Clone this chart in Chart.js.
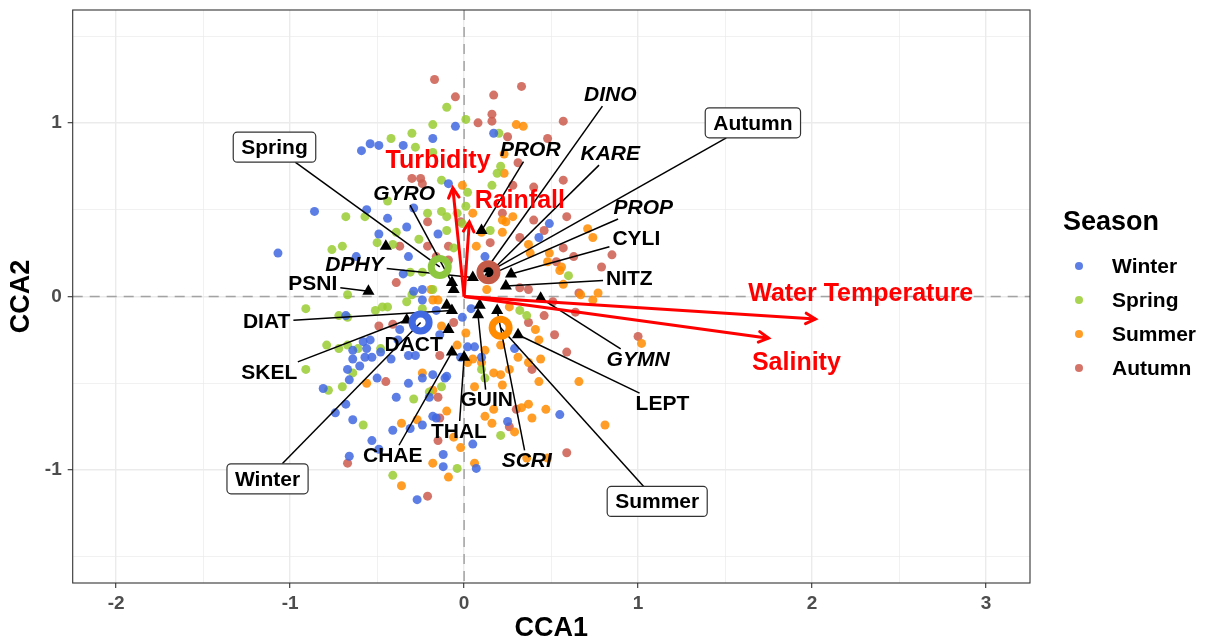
<!DOCTYPE html>
<html>
<head>
<meta charset="utf-8">
<title>CCA biplot</title>
<script src="https://cdn.jsdelivr.net/npm/chart.js@4/dist/chart.umd.min.js"></script>
<style>
  html, body { margin: 0; padding: 0; background: #fff; }
</style>
</head>
<body>
<canvas id="cca" width="1208" height="641"></canvas>
<script>
// Sample scores per season, [CCA1, CCA2]
const winterScores = [
  [-0.05,0.98],[-0.18,0.91],[-0.54,0.88],[-0.49,0.87],[-0.59,0.84],[-0.35,0.87],[-0.09,0.65],[-0.86,0.49],[-0.56,0.50],[-0.44,0.45],
  [-0.29,0.51],[-1.07,0.25],[-0.49,0.36],[-0.33,0.40],[-0.15,0.36],[0.12,0.23],[-0.35,0.13],[-0.62,0.23],[-0.24,0.04],[-0.32,0.23],
  [0.17,0.94],[0.43,0.34],[0.49,0.42],[-0.29,0.03],[-0.24,-0.02],[-0.16,-0.08],[-0.58,-0.26],[-0.54,-0.25],[-0.56,-0.30],[-0.57,-0.35],
  [-0.53,-0.35],[-0.48,-0.32],[-0.64,-0.31],[-0.60,-0.40],[-0.64,-0.36],[-0.42,-0.36],[-0.38,-0.25],[-0.28,-0.34],[-0.32,-0.34],[-0.14,-0.22],
  [-0.02,-0.35],[0.04,-0.07],[-0.01,-0.12],[0.10,-0.35],[0.02,-0.29],[0.06,-0.29],[-0.68,-0.11],[-0.37,-0.19],[-0.67,-0.42],[-0.50,-0.47],
  [-0.81,-0.53],[-0.68,-0.62],[-0.74,-0.67],[-0.64,-0.71],[-0.39,-0.58],[-0.32,-0.50],[-0.24,-0.47],[-0.18,-0.45],[-0.11,-0.47],[-0.18,-0.69],
  [-0.16,-0.70],[-0.24,-0.74],[-0.41,-0.77],[-0.31,-0.76],[-0.53,-0.83],[-0.49,-0.88],[0.05,-0.85],[0.07,-0.99],[-0.12,-0.91],[-0.12,-0.98],
  [-0.66,-0.92],[-0.27,-1.17],[0.25,-0.72],[-0.66,-0.48],[-0.10,-0.46],[-0.20,-0.58],[0.55,-0.68],[0.29,-0.30]
];
const springScores = [
  [-0.10,1.09],[0.01,1.02],[-0.18,0.99],[-0.30,0.94],[-0.42,0.91],[-0.28,0.86],[0.20,0.94],[0.21,0.75],[0.19,0.71],[-0.13,0.67],
  [0.02,0.60],[-0.68,0.46],[-0.57,0.46],[-0.21,0.48],[-0.13,0.49],[-0.04,0.48],[-0.76,0.27],[-0.70,0.29],[-0.39,0.37],[-0.26,0.33],
  [-0.31,0.14],[-0.24,0.14],[-0.67,0.01],[-0.30,0.01],[0.15,0.38],[-0.10,0.38],[-0.06,0.28],[-0.44,0.55],[0.01,0.52],[-0.01,0.42],
  [-0.10,0.46],[-0.41,0.30],[-0.50,0.31],[-0.91,-0.07],[-0.51,-0.08],[-0.47,-0.06],[-0.44,-0.06],[-0.33,-0.03],[-0.18,0.04],[-0.79,-0.28],
  [-0.72,-0.30],[-0.67,-0.28],[-0.61,-0.30],[-0.48,-0.30],[-0.72,-0.11],[-0.67,-0.12],[-0.24,-0.07],[-0.91,-0.42],[-0.64,-0.44],[-0.70,-0.52],
  [-0.78,-0.54],[-0.58,-0.74],[-0.29,-0.59],[-0.20,-0.55],[-0.13,-0.52],[-0.04,-0.99],[-0.41,-1.03],[0.21,-0.80],[0.10,-0.42],[0.12,-0.47],
  [0.16,0.64],[0.32,-0.08],[0.36,-0.11],[0.60,0.12],[-0.18,0.83]
];
const summerScores = [
  [0.30,0.99],[0.34,0.98],[-0.01,0.64],[0.22,0.44],[0.28,0.46],[0.07,0.29],[0.10,0.37],[0.22,0.37],[0.38,0.25],[0.23,0.82],
  [0.23,0.71],[0.71,0.39],[0.74,0.34],[0.37,0.30],[0.49,0.25],[0.56,0.17],[0.57,0.07],[0.67,0.01],[0.74,-0.02],[0.77,0.02],
  [0.05,0.48],[0.24,0.43],[-0.18,-0.02],[-0.15,-0.02],[-0.13,-0.17],[-0.04,-0.28],[0.12,-0.31],[0.02,-0.38],[0.13,0.04],[-0.19,0.04],
  [-0.24,-0.44],[-0.36,-0.73],[-0.27,-0.71],[-0.02,-0.87],[0.06,-0.96],[-0.18,-0.96],[-0.09,-1.04],[-0.36,-1.09],[-0.10,-0.66],[0.01,-0.21],
  [0.05,-0.36],[0.10,-0.38],[0.17,-0.44],[0.21,-0.45],[0.06,-0.52],[0.12,-0.69],[0.16,-0.73],[0.29,-0.78],[0.33,-0.64],[0.37,-0.62],
  [0.39,-0.70],[-0.18,-0.54],[-0.06,-0.81],[0.43,-0.49],[0.66,-0.49],[0.22,-0.51],[0.17,-0.65],[0.47,-0.65],[0.36,-0.93],[0.48,-0.93],
  [1.02,-0.27],[0.81,-0.74],[0.43,-0.25],[0.41,-0.19],[0.37,-0.38],[0.31,-0.35],[0.55,0.15],[0.26,-0.06],[0.21,-0.28],[0.26,-0.42],
  [0.44,-0.36],[0.48,0.20],[-0.56,-0.50]
];
const autumnScores = [
  [-0.17,1.25],[-0.05,1.15],[0.17,1.16],[0.33,1.21],[0.08,1.00],[0.16,1.05],[0.16,1.01],[0.25,0.92],[0.31,0.77],[-0.30,0.68],
  [-0.25,0.68],[-0.24,0.65],[-0.21,0.43],[-0.21,0.29],[-0.37,0.29],[-0.09,0.29],[-0.39,0.08],[0.15,0.31],[-0.09,0.21],[0.32,0.34],
  [-0.02,0.43],[0.57,1.01],[0.48,0.91],[0.28,0.64],[0.57,0.67],[0.59,0.46],[0.46,0.38],[0.40,0.44],[0.57,0.28],[0.53,0.20],
  [0.63,0.23],[0.85,0.24],[0.79,0.17],[0.40,0.63],[0.22,0.48],[-0.16,0.23],[-0.49,-0.17],[-0.41,-0.16],[-0.06,-0.15],[-0.45,-0.49],
  [-0.14,-0.34],[-0.15,-0.58],[-0.14,-0.70],[-0.15,-0.83],[-0.67,-0.96],[-0.21,-1.15],[0.30,-0.65],[0.26,-0.75],[0.59,-0.90],[1.00,-0.23],
  [0.59,-0.32],[0.46,-0.11],[0.64,-0.09],[0.39,-0.42],[0.37,-0.15],[0.32,0.05],[0.37,0.04],[0.66,0.02],[0.51,-0.03],[0.52,-0.22]
];

// Season centroids and where their boxed labels sit
const seasonNames = ["Winter", "Spring", "Summer", "Autumn"];
const centroidScores = [[-0.25,-0.15],[-0.14,0.17],[0.21,-0.18],[0.14,0.14]];
const seasonLabelPos = [[-1.13,-1.05],[-1.09,0.86],[1.11,-1.18],[1.66,1.00]];

// Species scores and label positions
const speciesNames = ["DINO","PROR","KARE","PROP","CYLI","NITZ","GYMN","LEPT","SCRI","GUIN","THAL","CHAE","DACT","SKEL","DIAT","PSNI","DPHY","GYRO"];
const speciesItalic = [true,true,true,true,false,false,true,false,true,false,false,false,false,false,false,false,true,true];
const speciesScores = [
  [0.13,0.16],[0.10,0.38],[0.15,0.14],[0.16,0.13],[0.27,0.13],[0.24,0.06],[0.44,-0.01],[0.31,-0.22],[0.19,-0.08],
  [0.08,-0.105],[0.00,-0.35],[-0.07,-0.32],[-0.09,-0.19],[-0.33,-0.135],[-0.07,-0.08],[-0.55,0.03],[0.05,0.11],[-0.07,0.08]
];
const speciesLabelPos = [
  [0.84,1.16],[0.38,0.84],[0.84,0.82],[1.03,0.51],[0.99,0.33],[0.95,0.10],[1.00,-0.365],[1.14,-0.62],[0.36,-0.95],
  [0.13,-0.60],[-0.03,-0.78],[-0.41,-0.92],[-0.29,-0.28],[-1.12,-0.44],[-1.135,-0.146],[-0.87,0.07],[-0.63,0.18],[-0.345,0.59]
];
const unlabeledSpecies = [[-0.45,0.29],[-0.06,0.04],[-0.10,-0.05],[0.09,-0.05]];

// Environmental vectors
const envNames = ["Water Temperature", "Salinity", "Turbidity", "Rainfall"];
const envScores = [[2.02,-0.13],[1.75,-0.24],[-0.065,0.625],[0.03,0.43]];
const envLabelPos = [[2.28,0.015],[1.91,-0.385],[-0.15,0.78],[0.32,0.55]];

// Axis ranges
const xRange = [-2.25, 3.253];
const yRange = [-1.65, 1.65];

const seasonFill = ["rgba(65,105,225,0.85)", "rgba(154,205,50,0.85)", "rgba(255,140,0,0.85)", "rgba(205,92,79,0.85)"];
const ringColors = ["#4169E1", "#8DC63F", "#FF8C00", "#C45A48"];
const FONT = '"Liberation Sans", Arial, Helvetica, sans-serif';

function font(size, italic) {
  return (italic ? "italic " : "") + "bold " + size + "px " + FONT;
}

function toPoints(arr) {
  return arr.map(([x, y]) => ({ x, y }));
}

function isMajor(v) {
  return Math.abs(v - Math.round(v)) < 1e-6;
}

// Segment from the edge of a label box to its target, ggrepel style
function segment(ctx, cx, cy, hw, hh, tx, ty) {
  const dx = tx - cx, dy = ty - cy;
  const t = Math.min(dx ? hw / Math.abs(dx) : Infinity, dy ? hh / Math.abs(dy) : Infinity);
  if (t >= 1) return;
  const sx = cx + dx * t, sy = cy + dy * t;
  if (Math.hypot(tx - sx, ty - sy) < 15) return;
  ctx.beginPath();
  ctx.moveTo(sx, sy);
  ctx.lineTo(tx, ty);
  ctx.stroke();
}

const SPECIES_INDEX = 4;

const ccaDecor = {
  id: "ccaDecor",
  beforeDatasetsDraw(chart) {
    const { ctx, chartArea: a, scales: { x, y } } = chart;
    const x0 = x.getPixelForValue(0), y0 = y.getPixelForValue(0);
    ctx.save();
    ctx.strokeStyle = "#A3A3A3";
    ctx.lineWidth = 1.5;
    ctx.setLineDash([10, 7]);
    ctx.beginPath();
    ctx.moveTo(x0, a.top); ctx.lineTo(x0, a.bottom);
    ctx.moveTo(a.left, y0); ctx.lineTo(a.right, y0);
    ctx.stroke();
    ctx.restore();
  },
  afterDatasetDraw(chart, args) {
    if (args.index !== SPECIES_INDEX) return;
    const { ctx, scales: { x, y } } = chart;
    ctx.save();
    ctx.strokeStyle = "#000";
    ctx.lineWidth = 1.5;
    speciesNames.forEach((name, i) => {
      ctx.font = font(21, speciesItalic[i]);
      const hw = ctx.measureText(name).width / 2 + 3;
      segment(ctx,
        x.getPixelForValue(speciesLabelPos[i][0]), y.getPixelForValue(speciesLabelPos[i][1]), hw, 11,
        x.getPixelForValue(speciesScores[i][0]), y.getPixelForValue(speciesScores[i][1]));
    });
    ctx.font = font(21, false);
    seasonNames.forEach((name, i) => {
      const hw = ctx.measureText(name).width / 2 + 8;
      segment(ctx,
        x.getPixelForValue(seasonLabelPos[i][0]), y.getPixelForValue(seasonLabelPos[i][1]), hw, 15,
        x.getPixelForValue(centroidScores[i][0]), y.getPixelForValue(centroidScores[i][1]));
    });
    ctx.restore();
  },
  afterDatasetsDraw(chart) {
    const { ctx, chartArea: a, scales: { x, y } } = chart;
    const x0 = x.getPixelForValue(0), y0 = y.getPixelForValue(0);
    ctx.save();

    // arrow heads on the environmental vectors
    ctx.strokeStyle = "#FF0000";
    ctx.lineWidth = 3;
    ctx.lineCap = "round";
    envScores.forEach(([ex, ey]) => {
      const tx = x.getPixelForValue(ex), ty = y.getPixelForValue(ey);
      const ang = Math.atan2(ty - y0, tx - x0);
      const len = 11;
      ctx.beginPath();
      ctx.moveTo(tx - len * Math.cos(ang - 0.5), ty - len * Math.sin(ang - 0.5));
      ctx.lineTo(tx, ty);
      ctx.lineTo(tx - len * Math.cos(ang + 0.5), ty - len * Math.sin(ang + 0.5));
      ctx.stroke();
    });

    ctx.textAlign = "center";
    ctx.textBaseline = "middle";

    // environmental labels
    ctx.fillStyle = "#FF0000";
    ctx.font = font(25, false);
    envNames.forEach((name, i) => {
      ctx.fillText(name, x.getPixelForValue(envLabelPos[i][0]), y.getPixelForValue(envLabelPos[i][1]));
    });

    // species labels
    ctx.fillStyle = "#000";
    speciesNames.forEach((name, i) => {
      ctx.font = font(21, speciesItalic[i]);
      ctx.fillText(name, x.getPixelForValue(speciesLabelPos[i][0]), y.getPixelForValue(speciesLabelPos[i][1]));
    });

    // season boxes
    ctx.font = font(21, false);
    ctx.lineWidth = 1.2;
    ctx.strokeStyle = "#333";
    ctx.lineCap = "butt";
    seasonNames.forEach((name, i) => {
      const cx = x.getPixelForValue(seasonLabelPos[i][0]);
      const cy = y.getPixelForValue(seasonLabelPos[i][1]);
      const w = ctx.measureText(name).width + 16, h = 30;
      ctx.beginPath();
      ctx.roundRect(cx - w / 2, cy - h / 2, w, h, 4);
      ctx.fillStyle = "#fff";
      ctx.fill();
      ctx.stroke();
      ctx.fillStyle = "#000";
      ctx.fillText(name, cx, cy + 1);
    });

    // panel border
    ctx.strokeStyle = "#333";
    ctx.lineWidth = 1.1;
    ctx.strokeRect(a.left, a.top, a.right - a.left, a.bottom - a.top);

    // axis titles
    ctx.fillStyle = "#000";
    ctx.font = font(27, false);
    ctx.fillText("CCA1", (a.left + a.right) / 2, 629);
    ctx.save();
    ctx.translate(22, (a.top + a.bottom) / 2);
    ctx.rotate(-Math.PI / 2);
    ctx.fillText("CCA2", 0, 0);
    ctx.restore();

    // legend
    ctx.textAlign = "left";
    ctx.font = font(27, false);
    ctx.fillText("Season", 1063, 223);
    ctx.font = font(21, false);
    seasonNames.forEach((name, i) => {
      const ly = 266 + i * 34;
      ctx.fillStyle = seasonFill[i];
      ctx.beginPath();
      ctx.arc(1079, ly, 4, 0, Math.PI * 2);
      ctx.fill();
      ctx.fillStyle = "#000";
      ctx.fillText(name, 1112, ly + 1);
    });
    ctx.restore();
  }
};

const pointSets = [winterScores, springScores, summerScores, autumnScores].map((arr, i) => ({
  label: seasonNames[i],
  data: toPoints(arr),
  backgroundColor: seasonFill[i],
  borderWidth: 0,
  pointRadius: 4.5,
  order: 10
}));

const arrowSets = envScores.map((p, i) => ({
  label: envNames[i],
  data: [{ x: 0, y: 0 }, { x: p[0], y: p[1] }],
  showLine: true,
  borderColor: "#FF0000",
  borderWidth: 3,
  pointRadius: 0,
  order: 6
}));

// the panel is placed by hand: no label overflow padding from the axes
function noOverflow(s) {
  s.paddingTop = 0;
  s.paddingBottom = 0;
  s.paddingLeft = 0;
  s.paddingRight = 0;
}

new Chart(document.getElementById("cca"), {
  type: "scatter",
  data: {
    datasets: [
      ...pointSets,
      {
        label: "Species",
        data: toPoints(speciesScores.concat(unlabeledSpecies)),
        pointStyle: "triangle",
        pointRadius: 7,
        backgroundColor: "#000",
        borderWidth: 0,
        order: 8
      },
      {
        label: "Centroids",
        data: toPoints(centroidScores),
        pointRadius: 8.5,
        pointBorderWidth: 7,
        backgroundColor: "rgba(0,0,0,0)",
        borderColor: ringColors,
        order: 4
      },
      ...arrowSets
    ]
  },
  options: {
    responsive: false,
    animation: false,
    devicePixelRatio: 1,
    layout: { autoPadding: false, padding: { top: 10, right: 178, left: 0, bottom: 0 } },
    plugins: { legend: { display: false }, tooltip: { enabled: false } },
    scales: {
      x: {
        type: "linear",
        min: xRange[0],
        max: xRange[1],
        afterFit: (s) => { s.height = 58; noOverflow(s); },
        ticks: {
          stepSize: 0.5,
          includeBounds: false,
          autoSkip: false,
          maxRotation: 0,
          padding: 4,
          color: "#4D4D4D",
          font: { family: FONT, size: 19, weight: "bold" },
          callback: (v) => (isMajor(v) ? Math.round(v) : "")
        },
        grid: {
          color: "#EBEBEB",
          lineWidth: (c) => (c.tick && isMajor(c.tick.value) ? 1.4 : 0.7),
          tickColor: (c) => (c.tick && isMajor(c.tick.value) ? "#333" : "rgba(0,0,0,0)"),
          tickLength: 5,
          tickWidth: 1.1
        },
        border: { display: false }
      },
      y: {
        type: "linear",
        min: yRange[0],
        max: yRange[1],
        afterFit: (s) => { s.width = 72.7; noOverflow(s); },
        ticks: {
          stepSize: 0.5,
          includeBounds: false,
          autoSkip: false,
          padding: 6,
          color: "#4D4D4D",
          font: { family: FONT, size: 19, weight: "bold" },
          callback: (v) => (isMajor(v) ? Math.round(v) : "")
        },
        grid: {
          color: "#EBEBEB",
          lineWidth: (c) => (c.tick && isMajor(c.tick.value) ? 1.4 : 0.7),
          tickColor: (c) => (c.tick && isMajor(c.tick.value) ? "#333" : "rgba(0,0,0,0)"),
          tickLength: 5,
          tickWidth: 1.1
        },
        border: { display: false }
      }
    }
  },
  plugins: [ccaDecor]
});
</script>
</body>
</html>
